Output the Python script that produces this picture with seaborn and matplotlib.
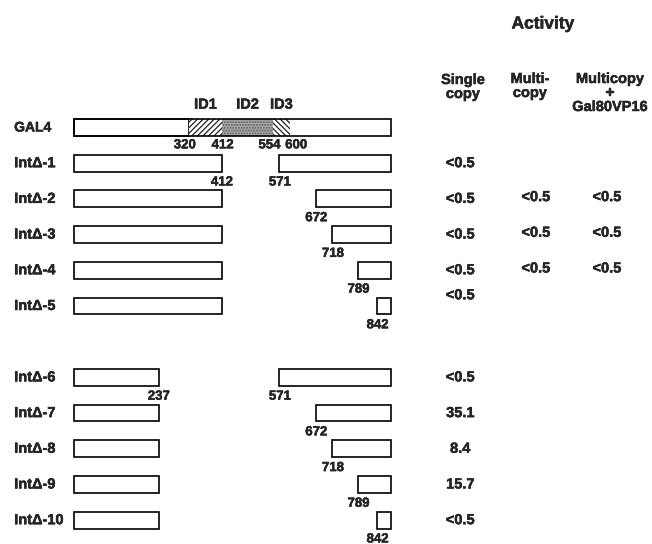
import matplotlib
matplotlib.use("Agg")
import matplotlib.pyplot as plt
import matplotlib.transforms as mtransforms
import matplotlib.patheffects as pe
import seaborn as sns

# constructs: name, kept segments (amino-acid start, end)
names = ["GAL4", "IntΔ-1", "IntΔ-2", "IntΔ-3", "IntΔ-4", "IntΔ-5",
         "IntΔ-6", "IntΔ-7", "IntΔ-8", "IntΔ-9", "IntΔ-10"]
rows = [0, 1, 2, 3, 4, 5, 7, 8, 9, 10, 11]
left_end = [881, 412, 412, 412, 412, 412, 237, 237, 237, 237, 237]
right_start = [None, 571, 672, 718, 789, 842, 571, 672, 718, 789, 842]
protein_end = 881

# inhibitory domains of GAL4
domain_names = ["ID1", "ID2", "ID3"]
domain_start = [320, 412, 554]
domain_end = [412, 554, 600]
gal4_marks = [320, 412, 554, 600]

# labels written under each construct
left_marks = [None, "412", None, None, None, None, "237", None, None, None, None]

# activity columns
single_copy = ["<0.5", "<0.5", "<0.5", "<0.5", "<0.5",
               "<0.5", "35.1", "8.4", "15.7", "<0.5"]
multi_copy = ["", "<0.5", "<0.5", "<0.5", "", "", "", "", "", ""]
multi_gal80 = ["", "<0.5", "<0.5", "<0.5", "", "", "", "", "", ""]

sns.set_theme(style="white")
plt.rcParams["font.family"] = ["Liberation Sans", "DejaVu Sans"]
plt.rcParams["font.weight"] = "bold"
plt.rcParams["hatch.linewidth"] = 0.9

thick = [pe.withStroke(linewidth=0.3, foreground="black")]

fig = plt.figure(figsize=(6.52, 5.44), dpi=100)
ax = fig.add_axes([0, 0, 1, 1])
ax.set_xlim(-204.4, 1605.6)
ax.set_ylim(11.667, -3.571)
ax.axis("off")

h = 0.47
lw = 1.2


def label(x, y, s, size, **kw):
    return ax.text(x, y, s, ha=kw.pop("ha", "center"), va="center", fontsize=size,
                   path_effects=thick, **kw)


# GAL4 full length with domains
y0 = rows[0]
ax.barh(y0, domain_start[0] - 1, left=1, height=h, color="white", edgecolor="black", lw=lw)
ax.barh(y0, domain_end[0] - domain_start[0], left=domain_start[0], height=h,
        color="white", edgecolor="#222222", hatch="//////", lw=0)
ax.barh(y0, domain_end[1] - domain_start[1], left=domain_start[1], height=h,
        color="#a8a8a8", edgecolor="#5a5a5a", hatch="......", lw=0)
ax.barh(y0, domain_end[2] - domain_start[2], left=domain_start[2], height=h,
        color="white", edgecolor="#222222", hatch="\\\\\\\\\\\\", lw=0)
ax.barh(y0, protein_end - 1, left=1, height=h, fill=False, edgecolor="black", lw=lw)
for s, e, n in zip(domain_start, domain_end, domain_names):
    label((s + e) / 2, y0 - 0.64, n, 10.5)
mark_shift = [-11, 2, -10, 18]
for m, d in zip(gal4_marks, mark_shift):
    label(m + d, y0 + 0.5, str(m), 9.5)
label(-165, y0, names[0], 10, ha="left")

# deletion constructs
for i in range(1, len(names)):
    y = rows[i]
    ax.barh(y, left_end[i] - 1, left=1, height=h, color="white", edgecolor="black", lw=lw)
    ax.barh(y, protein_end - right_start[i], left=right_start[i], height=h,
            color="white", edgecolor="black", lw=lw)
    if left_marks[i]:
        label(left_end[i], y + 0.54, left_marks[i], 9.5)
    label(right_start[i] + 2, y + 0.54, str(right_start[i]), 9.5)
    label(-165, y, names[i], 10.5, ha="left")

# activity table
trans = mtransforms.blended_transform_factory(fig.transFigure, ax.transData)
col_x = [0.706, 0.822, 0.931]
for i in range(1, len(names)):
    y = rows[i]
    dy = -0.3 if i == 5 else 0
    for cx, vals, off in zip(col_x, [single_copy, multi_copy, multi_gal80], [0, -0.05, -0.05]):
        v = vals[i - 1]
        if v:
            label(cx, y + dy + off, v, 10.5, transform=trans)

fig.text(543 / 652, 1 - 24 / 544, "Activity", ha="center", va="center", fontsize=12.5,
         path_effects=thick)
fig.text(463 / 652, 1 - 87 / 544, "Single\ncopy", ha="center", va="center",
         fontsize=10.5, linespacing=1.0, path_effects=thick)
fig.text(530 / 652, 1 - 86 / 544, "Multi-\ncopy", ha="center", va="center",
         fontsize=10.5, linespacing=1.0, path_effects=thick)
fig.text(610 / 652, 1 - 93 / 544, "Multicopy\n+\nGal80VP16", ha="center", va="center",
         fontsize=10.5, linespacing=1.0, path_effects=thick)

fig.savefig("out.png", dpi=100, facecolor="white")
